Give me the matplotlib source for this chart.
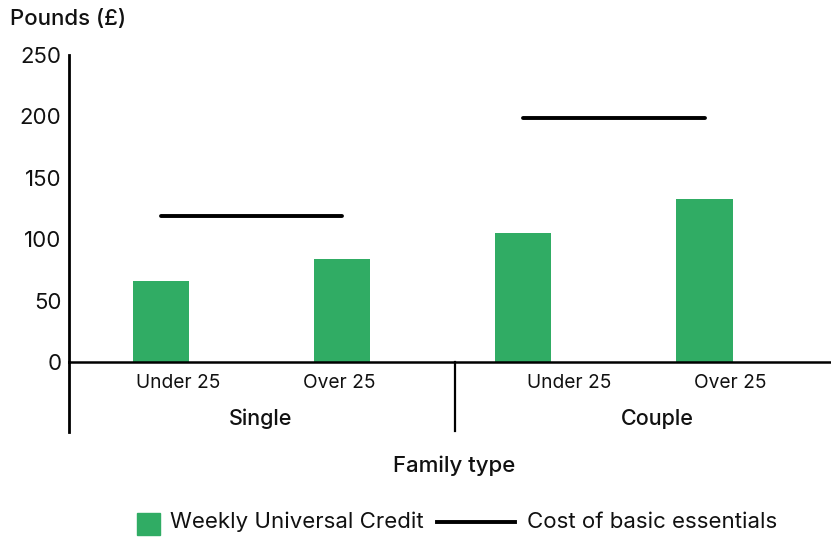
import matplotlib
matplotlib.use("Agg")
import matplotlib.pyplot as plt
from matplotlib.lines import Line2D
from matplotlib.patches import Rectangle
import matplotlib.transforms as mtransforms

# ---- data ----
groups = ["Single", "Couple"]
ages = ["Under 25", "Over 25", "Under 25", "Over 25"]
weekly_uc = [66, 84, 105, 133]          # Weekly Universal Credit (£)
essentials = [119, 199]                 # Cost of basic essentials (£) per group
yticks = [0, 50, 100, 150, 200, 250]
y_label = "Pounds (£)"
x_label = "Family type"
legend_labels = ["Weekly Universal Credit", "Cost of basic essentials"]

# ---- style ----
FONT = "Inter"
plt.rcParams["font.family"] = [FONT, "DejaVu Sans"]
GREEN = "#30ac64"
W, H, DPI = 831, 539, 100

fig = plt.figure(figsize=(W / DPI, H / DPI), dpi=DPI)
ax = fig.add_axes([69 / W, (H - 362) / H, 762 / W, 307 / H])

pos = list(range(len(weekly_uc)))
ax.bar(pos, weekly_uc, width=0.31, color=GREEN, zorder=2)

# essentials lines: span from first to second bar centre of each group
for g, val in enumerate(essentials):
    x0, x1 = pos[2 * g], pos[2 * g + 1]
    ax.plot([x0, x1], [val, val], color="black", lw=2.8,
            solid_capstyle="round", zorder=3)

ax.set_xlim(-0.5077, 3.698)
ax.set_ylim(0, 250)
ax.set_yticks(yticks)
ax.set_yticklabels([str(v) for v in yticks], fontsize=16, color="#111111")
ax.tick_params(axis="y", length=0, pad=5.5)

# x tick labels (slightly offset as in reference)
label_offsets = [0.094, -0.018, 0.254, 0.143]
ax.set_xticks([p + o for p, o in zip(pos, label_offsets)])
ax.set_xticklabels(ages, fontsize=13.8, color="#111111")
ax.tick_params(axis="x", length=0, pad=8.5)

for s in ["top", "right"]:
    ax.spines[s].set_visible(False)
ax.spines["left"].set_linewidth(2.0)
ax.spines["bottom"].set_linewidth(1.8)
ax.spines["left"].set_bounds(0, 250)

trans = mtransforms.blended_transform_factory(ax.transData, ax.transAxes)
px = 1 / 307  # one pixel in axes fraction (vertical)

# extended left axis and group divider below the baseline
ax.add_line(Line2D([-0.5077, -0.5077], [0, -70 * px], transform=trans,
                   color="black", lw=2.0, clip_on=False))
ax.add_line(Line2D([1.620, 1.620], [0, -69 * px], transform=trans,
                   color="black", lw=1.6, clip_on=False))

# group labels
for gx, g in zip([0.552, 2.740], groups):
    ax.text(gx, -57 * px, g, transform=trans, ha="center", va="center",
            fontsize=15.5, fontweight="medium", color="#111111")

# axis title and y label
ax.text(1.620, -104 * px, x_label, transform=trans, ha="center", va="center",
        fontsize=16, fontweight="medium", color="#111111")
fig.text(10 / W, 1 - 19 / H, y_label, ha="left", va="center",
         fontsize=16, fontweight="medium", color="#111111")

# legend (manual)
ly = 1 - 522 / H
fig.patches.append(Rectangle((137 / W, 1 - 535 / H), 23 / W, 22 / H,
                             transform=fig.transFigure, color=GREEN))
fig.text(170 / W, ly, legend_labels[0], ha="left", va="center",
         fontsize=16, color="#111111")
fig.add_artist(Line2D([437 / W, 515 / W], [ly, ly], transform=fig.transFigure,
                      color="black", lw=2.8))
fig.text(527 / W, ly, legend_labels[1], ha="left", va="center",
         fontsize=16, color="#111111")

fig.savefig("out.png", dpi=DPI)
